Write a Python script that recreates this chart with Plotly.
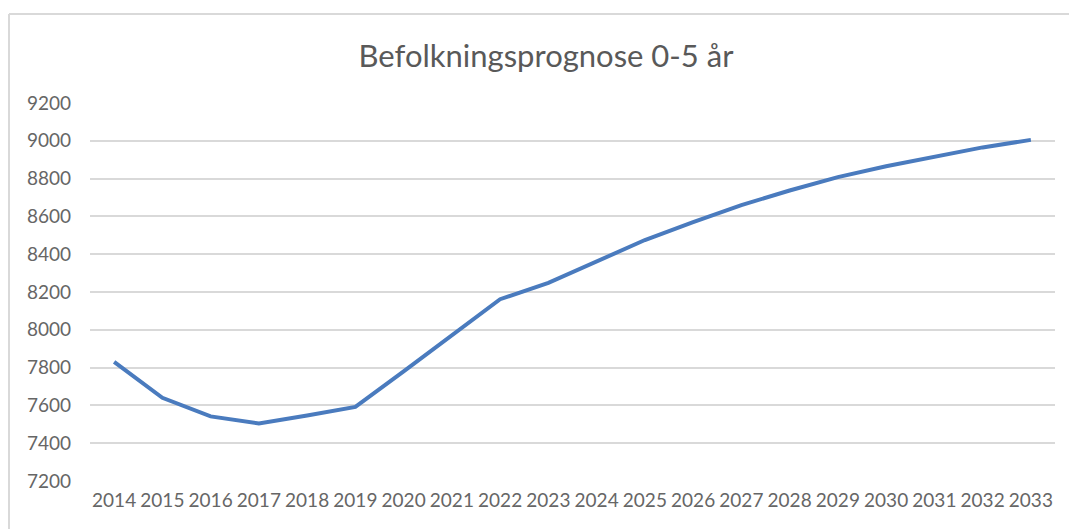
import plotly.graph_objects as go

years = [str(y) for y in range(2014, 2034)]
population = [7830, 7640, 7542, 7505, 7547, 7592, 7780, 7970, 8162, 8248,
              8362, 8475, 8570, 8660, 8737, 8808, 8865, 8917, 8965, 9005]
y_ticks = [7200, 7400, 7600, 7800, 8000, 8200, 8400, 8600, 8800, 9000, 9200]

W, H = 1069, 529
L, R, T, B = 90, 14, 103, 48
pw, ph = W - L - R, H - T - B

def px_x(x):
    return (x - L) / pw

def px_y(y):
    return (H - B - y) / ph

fig = go.Figure()
fig.add_trace(go.Scatter(
    x=years, y=population, mode="lines",
    line=dict(color="#4A7BBE", width=4),
    showlegend=False, hoverinfo="x+y",
))

fig.update_layout(
    width=W, height=H,
    margin=dict(l=L, r=R, t=T, b=B),
    paper_bgcolor="white", plot_bgcolor="white",
    font=dict(family="Lato, Open Sans, sans-serif", color="#595959"),
    title=dict(text="Befolkningsprognose 0-5 år", x=546 / W, xanchor="center",
               y=1 - 56 / H, yanchor="middle",
               font=dict(size=31, color="#595959", family="Lato, Open Sans, sans-serif")),
    xaxis=dict(type="category", showgrid=False, zeroline=False, showline=False,
               ticks="", tickfont=dict(size=19, color="#666666"),
               range=[-0.5, len(years) - 0.5], ticklabelstandoff=6),
    yaxis=dict(range=[7200, 9200], tickvals=y_ticks, ticktext=[str(v) for v in y_ticks],
               showgrid=True, gridcolor="#D9D9D9", gridwidth=1.5, zeroline=False,
               showline=False, ticks="", tickfont=dict(size=19, color="#666666"),
               ticklabelstandoff=18),
    shapes=[
        dict(type="line", xref="paper", yref="paper",
             x0=px_x(9), x1=px_x(W + 5), y0=px_y(14), y1=px_y(14),
             line=dict(color="#D9D9D9", width=2)),
        dict(type="line", xref="paper", yref="paper",
             x0=px_x(9), x1=px_x(9), y0=px_y(14), y1=px_y(H + 5),
             line=dict(color="#D9D9D9", width=2)),
    ],
)

fig.write_html("out.html", config={"displayModeBar": False},
               post_script="document.body.style.margin='0';document.body.style.overflow='hidden';")
